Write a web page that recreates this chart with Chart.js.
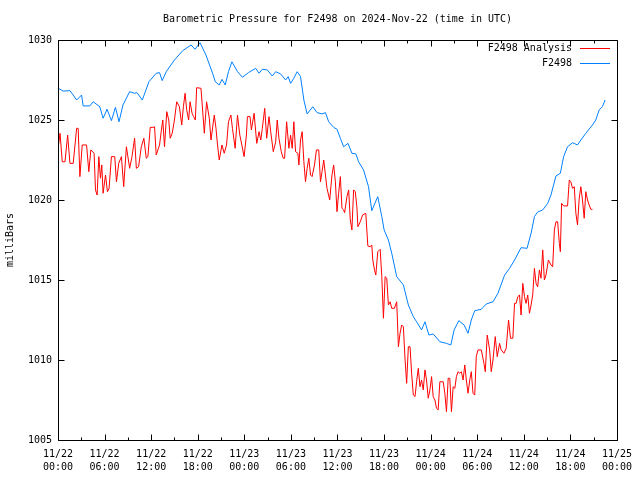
<!DOCTYPE html>
<html>
<head>
<meta charset="utf-8">
<script src="https://cdn.jsdelivr.net/npm/chart.js@4/dist/chart.umd.min.js"></script>
<style>
  html, body { margin: 0; padding: 0; background: #fff; }
  #wrap { width: 640px; height: 480px; }
</style>
</head>
<body>
<div id="wrap"><canvas id="chart" width="640" height="480"></canvas></div>
<script>
// Barometric pressure, F2498 — hours since 2024-11-22 00:00 UTC, values in milliBars

const TITLE = 'Barometric Pressure for F2498 on 2024-Nov-22 (time in UTC)';
const Y_TITLE = 'milliBars';
const SERIES_NAMES = ['F2498 Analysis', 'F2498'];

const Y_MIN = 1005, Y_MAX = 1030, Y_STEP = 5;
const X_MIN = 0, X_MAX = 72, X_STEP = 3, X_LABEL_STEP = 6;

// station (blue)
const stationHours = [
  0.0, 0.64, 1.54, 1.96, 2.40, 3.04, 3.24, 4.10, 4.53, 5.38, 5.81, 6.32, 6.88, 7.40, 7.86, 8.37,
  9.23, 9.87, 10.17, 10.86, 11.71, 12.65, 13.08, 13.42, 13.94, 15.0, 16.06, 17.14, 17.65, 18.29,
  19.06, 19.91, 20.26, 20.77, 21.12, 21.54, 21.96, 22.40, 23.12, 23.76, 24.53, 25.47, 25.90, 26.32,
  26.96, 27.60, 28.04, 28.68, 29.32, 29.65, 29.96, 30.38, 30.81, 31.24, 31.67, 32.09, 32.82, 33.37,
  34.01, 34.45, 34.87, 35.51, 35.94, 36.37, 36.79, 37.35, 37.86, 38.37, 38.72, 39.36, 40.0, 40.42,
  41.19, 41.71, 42.01, 42.56, 42.99, 43.63, 44.49, 45.13, 45.77, 46.19, 46.83, 47.27, 47.78, 48.33,
  49.19, 50.04, 50.60, 51.03, 51.63, 52.31, 52.82, 53.24, 53.68, 54.53, 55.17, 56.03, 56.67, 57.53,
  58.17, 58.81, 59.65, 60.42, 60.94, 61.37, 61.79, 62.44, 63.08, 63.50, 64.14, 64.71, 65.13, 65.64,
  66.28, 66.92, 67.35, 67.99, 68.85, 69.27, 69.71, 70.13, 70.47
];
const stationMbar = [
  1027.0, 1026.81, 1026.83, 1026.56, 1026.25, 1026.56, 1025.88, 1025.88, 1026.14, 1025.83, 1025.11, 1025.67, 1024.96, 1025.79, 1024.89, 1025.94,
  1026.77, 1026.67, 1026.71, 1026.25, 1027.39, 1027.92, 1027.96, 1027.46, 1028.02, 1028.75, 1029.33, 1029.69, 1029.42, 1029.83,
  1029.06, 1027.92, 1027.39, 1027.19, 1027.54, 1027.19, 1028.02, 1028.64, 1028.02, 1027.67, 1027.96, 1028.23, 1027.92, 1028.17,
  1028.13, 1027.75, 1028.02, 1027.88, 1027.5, 1027.71, 1027.29, 1027.61, 1028.02, 1027.71, 1026.25, 1025.38, 1025.83, 1025.46,
  1025.38, 1025.46, 1024.89, 1024.54, 1024.42, 1023.86, 1023.33, 1023.54, 1022.92, 1022.88, 1022.39, 1021.88, 1020.83, 1019.33,
  1020.21, 1018.96, 1018.13, 1017.5, 1016.67, 1015.21, 1014.69, 1013.44, 1012.71, 1012.39, 1011.88, 1012.39, 1011.56, 1011.63,
  1011.14, 1011.04, 1010.94, 1011.88, 1012.46, 1012.19, 1011.67, 1012.5, 1013.08, 1013.17, 1013.5, 1013.64, 1014.17, 1015.31,
  1015.73, 1016.25, 1017.02, 1016.98, 1017.92, 1018.96, 1019.25, 1019.38, 1019.79, 1020.31, 1021.5, 1021.67, 1022.71, 1023.33,
  1023.58, 1023.44, 1023.75, 1024.17, 1024.69, 1025.0, 1025.63, 1025.83, 1026.25
];

// analysis (red)
const analysisHours = [
  0.04, 0.26, 0.55, 0.90, 1.24, 1.54, 1.96, 2.40, 2.60, 2.82, 3.12, 3.68, 3.97, 4.23, 4.65, 4.83,
  5.04, 5.26, 5.47, 5.64, 5.81, 6.12, 6.37, 6.58, 6.88, 7.31, 7.53, 7.82, 8.17, 8.46, 8.81, 9.23,
  9.53, 9.87, 10.09, 10.38, 10.73, 11.06, 11.37, 11.58, 11.88, 12.22, 12.44, 12.65, 13.08, 13.29,
  13.50, 13.72, 14.01, 14.27, 14.45, 14.71, 15.0, 15.29, 15.64, 15.94, 16.15, 16.37, 16.58, 16.83,
  17.01, 17.27, 17.47, 17.69, 17.86, 18.42, 18.85, 19.14, 19.49, 19.71, 20.13, 20.35, 20.55, 20.77,
  21.12, 21.41, 21.71, 21.96, 22.27, 22.47, 22.82, 23.12, 23.42, 23.68, 23.97, 24.27, 24.40, 24.74,
  24.91, 25.26, 25.60, 25.90, 26.12, 26.32, 26.63, 26.88, 27.18, 27.40, 27.73, 28.04, 28.24, 28.46,
  28.76, 29.01, 29.19, 29.45, 29.74, 29.96, 30.17, 30.38, 30.60, 30.90, 31.03, 31.24, 31.45, 31.67,
  31.88, 32.09, 32.31, 32.53, 32.73, 33.04, 33.29, 33.59, 33.81, 34.01, 34.23, 34.45, 34.65, 35.0,
  35.29, 35.51, 35.73, 35.94, 36.15, 36.37, 36.58, 36.79, 36.92, 37.22, 37.44, 37.65, 37.86, 38.08,
  38.29, 38.50, 38.63, 38.94, 39.23, 39.65, 39.91, 40.22, 40.42, 40.55, 40.77, 40.94, 41.19, 41.50,
  41.71, 41.92, 42.14, 42.35, 42.56, 42.78, 42.99, 43.33, 43.63, 43.85, 44.06, 44.27, 44.49, 44.71,
  44.91, 45.13, 45.35, 45.55, 45.77, 45.99, 46.19, 46.41, 46.63, 46.83, 47.05, 47.27, 47.47, 47.69,
  47.91, 48.12, 48.33, 48.55, 48.76, 48.97, 49.19, 49.62, 49.83, 50.04, 50.26, 50.47, 50.68, 50.90,
  51.12, 51.32, 51.54, 51.76, 51.96, 52.18, 52.40, 52.60, 52.82, 53.04, 53.24, 53.46, 53.68, 53.88,
  54.10, 54.53, 54.87, 55.04, 55.29, 55.60, 55.81, 56.03, 56.32, 56.58, 56.88, 57.09, 57.44, 57.73,
  58.04, 58.29, 58.59, 58.81, 59.01, 59.23, 59.45, 59.65, 59.87, 60.09, 60.29, 60.51, 60.73, 60.94,
  61.15, 61.37, 61.58, 61.79, 62.01, 62.22, 62.44, 62.65, 62.86, 63.17, 63.50, 63.72, 63.94, 64.14,
  64.36, 64.58, 64.71, 64.87, 65.13, 65.64, 65.86, 66.06, 66.28, 66.50, 66.71, 66.92, 67.14, 67.35,
  67.56, 67.78, 67.99, 68.21, 68.42, 68.63, 68.85
];
const analysisMbar = [
  1023.33, 1024.17, 1022.39, 1022.39, 1024.06, 1022.29, 1022.29, 1024.48, 1024.48, 1021.46, 1023.44, 1023.44, 1021.77, 1023.13, 1022.92, 1020.63,
  1020.31, 1022.71, 1021.36, 1022.19, 1020.42, 1021.56, 1020.52, 1020.73, 1022.71, 1022.71, 1021.14, 1022.29, 1022.71, 1020.83, 1023.33, 1021.98,
  1022.71, 1023.86, 1021.98, 1022.08, 1023.33, 1023.86, 1022.61, 1022.71, 1024.54, 1024.54, 1024.58, 1022.81, 1023.44, 1024.27,
  1025.0, 1023.33, 1025.52, 1025.0, 1023.86, 1024.17, 1025.0, 1026.14, 1025.83, 1024.69, 1025.83, 1026.67, 1025.63, 1025.0,
  1026.14, 1025.42, 1025.21, 1025.0, 1027.02, 1026.98, 1024.17, 1026.14, 1025.11, 1023.75, 1025.31, 1024.48, 1023.44, 1022.5,
  1023.44, 1022.92, 1023.44, 1024.89, 1025.31, 1024.48, 1023.23, 1025.31, 1024.06, 1023.44, 1022.71, 1024.06, 1025.21, 1025.21,
  1024.38, 1025.42, 1023.54, 1024.27, 1023.75, 1024.48, 1025.73, 1023.86, 1025.21, 1024.27, 1023.02, 1023.64, 1025.0, 1023.86,
  1023.02, 1022.61, 1022.61, 1024.89, 1023.23, 1024.06, 1023.23, 1024.89, 1023.02, 1022.92, 1022.19, 1023.75, 1024.27, 1022.39,
  1021.14, 1021.98, 1022.61, 1021.56, 1021.46, 1022.19, 1023.13, 1023.13, 1021.14, 1021.77, 1022.5, 1021.56, 1020.73, 1020.0,
  1021.56, 1022.19, 1021.14, 1019.27, 1020.42, 1021.46, 1019.48, 1019.38, 1019.21, 1020.21, 1020.63, 1018.75, 1018.13, 1020.63,
  1020.52, 1019.58, 1018.33, 1018.64, 1019.06, 1019.17, 1017.13, 1017.08, 1017.19, 1016.25, 1015.63, 1015.31, 1016.77, 1016.92,
  1015.21, 1012.61, 1015.21, 1015.11, 1013.44, 1013.64, 1013.23, 1013.23, 1013.64, 1010.83, 1011.67, 1012.19, 1012.08, 1010.0,
  1008.54, 1010.83, 1010.83, 1009.17, 1007.81, 1007.71, 1008.64, 1009.48, 1008.33, 1008.75, 1008.13, 1009.38, 1008.75, 1007.61,
  1008.13, 1008.96, 1007.71, 1007.5, 1006.98, 1006.88, 1008.64, 1008.64, 1007.92, 1006.77, 1008.86, 1008.86, 1006.77, 1008.33,
  1008.23, 1008.96, 1009.27, 1009.17, 1009.27, 1008.75, 1009.69, 1008.75, 1007.92, 1008.75, 1009.27, 1007.92, 1007.81, 1010.21,
  1010.63, 1010.63, 1009.79, 1009.27, 1011.56, 1010.63, 1009.27, 1010.0, 1011.46, 1010.21, 1011.04, 1010.63, 1010.42, 1010.73,
  1012.5, 1011.36, 1011.36, 1013.54, 1013.54, 1013.96, 1014.06, 1012.81, 1014.79, 1013.96, 1013.54, 1014.06, 1012.92, 1013.44,
  1014.06, 1015.73, 1014.79, 1014.58, 1015.63, 1015.11, 1016.88, 1015.0, 1015.31, 1016.25, 1015.94, 1015.83, 1018.13, 1018.64,
  1018.64, 1017.29, 1016.77, 1019.79, 1019.63, 1019.63, 1021.25, 1021.14, 1020.73, 1020.83, 1019.17, 1018.44, 1020.11, 1020.83,
  1020.0, 1018.86, 1020.52, 1020.0, 1019.69, 1019.42, 1019.42
];

const COLORS = ['#ff0000', '#0080ff'];
const FONT = "'DejaVu Sans Mono', 'Liberation Mono', monospace";

function toPoints(xs, ys) {
  return xs.map((x, i) => ({ x, y: ys[i] }));
}

function pad2(n) { return String(n).padStart(2, '0'); }

function xLabel(h) {
  if (h % X_LABEL_STEP !== 0) return '';
  const day = 22 + Math.floor(h / 24);
  return ['11/' + day, pad2(h % 24) + ':00'];
}

// gnuplot style frame: border, inward tics on all four sides, title, key
const gnuplotFrame = {
  id: 'gnuplotFrame',
  afterDraw(chart) {
    const { ctx, chartArea: a, scales } = chart;
    const L = Math.round(a.left) + 0.5, R = Math.round(a.right) + 0.5;
    const T = Math.round(a.top) + 0.5, B = Math.round(a.bottom) + 0.5;
    ctx.save();
    ctx.strokeStyle = '#000';
    ctx.lineWidth = 1;
    ctx.beginPath();
    ctx.rect(L, T, R - L, B - T);

    scales.x.ticks.forEach(t => {
      const px = Math.round(scales.x.getPixelForValue(t.value)) + 0.5;
      const len = t.value % X_LABEL_STEP === 0 ? 6 : 3;
      ctx.moveTo(px, B); ctx.lineTo(px, B - len);
      ctx.moveTo(px, T); ctx.lineTo(px, T + len);
    });
    scales.y.ticks.forEach(t => {
      const py = Math.round(scales.y.getPixelForValue(t.value)) + 0.5;
      ctx.moveTo(L, py); ctx.lineTo(L + 6, py);
      ctx.moveTo(R, py); ctx.lineTo(R - 6, py);
    });
    ctx.stroke();

    ctx.fillStyle = '#000';
    ctx.font = '10px ' + FONT;
    ctx.textAlign = 'center';
    ctx.textBaseline = 'middle';
    ctx.fillText(TITLE, (a.left + a.right) / 2, 19);

    ctx.save();
    ctx.translate(10, (a.top + a.bottom) / 2);
    ctx.rotate(-Math.PI / 2);
    ctx.fillText(Y_TITLE, 0, 0);
    ctx.restore();

    // key, top right
    ctx.textAlign = 'right';
    SERIES_NAMES.forEach((name, i) => {
      const y = 48 + i * 15;
      ctx.fillStyle = '#000';
      ctx.fillText(name, 572, y);
      ctx.strokeStyle = COLORS[i];
      ctx.beginPath();
      ctx.moveTo(580, y + 0.5);
      ctx.lineTo(610, y + 0.5);
      ctx.stroke();
    });
    ctx.restore();
  }
};

new Chart(document.getElementById('chart'), {
  type: 'line',
  data: {
    datasets: [
      { label: SERIES_NAMES[0], data: toPoints(analysisHours, analysisMbar), borderColor: COLORS[0] },
      { label: SERIES_NAMES[1], data: toPoints(stationHours, stationMbar), borderColor: COLORS[1] }
    ]
  },
  options: {
    responsive: false,
    animation: false,
    events: [],
    layout: { padding: { top: 40, right: 20, left: 0, bottom: 0 } },
    elements: {
      line: { borderWidth: 1, tension: 0, fill: false },
      point: { radius: 0 }
    },
    plugins: {
      legend: { display: false },
      title: { display: false },
      tooltip: { enabled: false }
    },
    scales: {
      x: {
        type: 'linear',
        min: X_MIN,
        max: X_MAX,
        afterFit: s => { s.height = 40; },
        grid: { display: false, drawTicks: false },
        border: { display: false },
        ticks: {
          stepSize: X_STEP,
          autoSkip: false,
          maxRotation: 0,
          padding: 8,
          color: '#000',
          font: { family: FONT, size: 10, lineHeight: 1.3 },
          callback: v => xLabel(v)
        }
      },
      y: {
        min: Y_MIN,
        max: Y_MAX,
        afterFit: s => { s.width = 58; },
        grid: { display: false, drawTicks: false },
        border: { display: false },
        ticks: {
          stepSize: Y_STEP,
          padding: 6,
          color: '#000',
          font: { family: FONT, size: 10 },
          callback: v => String(v)
        }
      }
    }
  },
  plugins: [gnuplotFrame]
});
</script>
</body>
</html>
